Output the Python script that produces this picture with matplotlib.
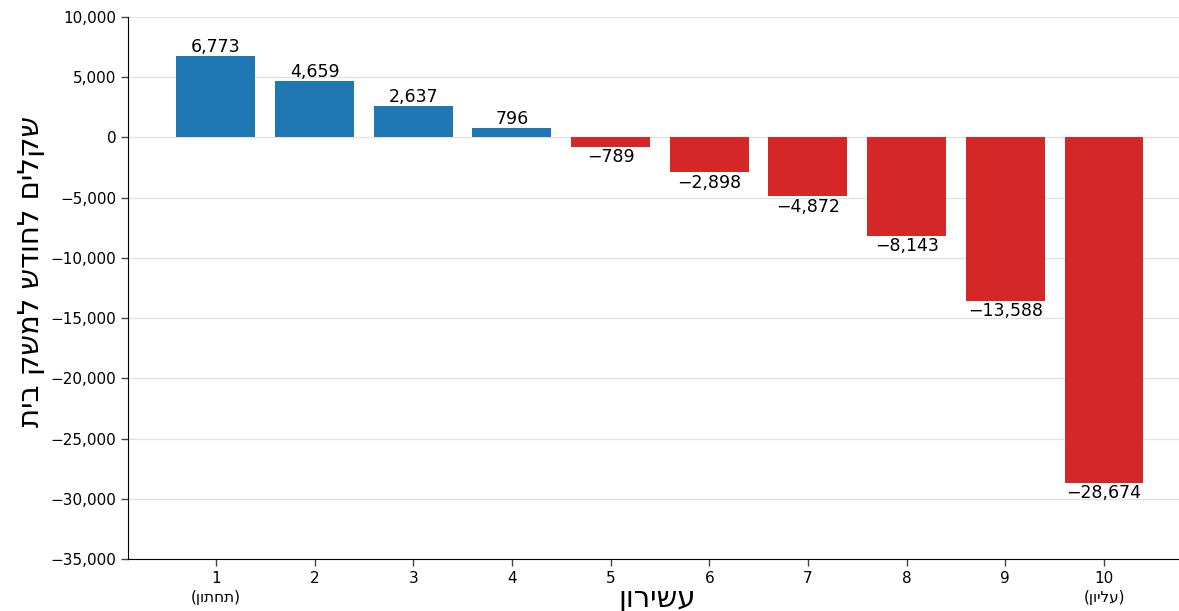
import matplotlib
matplotlib.use("Agg")
import matplotlib.pyplot as plt
from matplotlib.ticker import FuncFormatter, MultipleLocator

# Monthly change per household (NIS) by income decile
DECILES = [1, 2, 3, 4, 5, 6, 7, 8, 9, 10]
VALUES = [6773, 4659, 2637, 796, -789, -2898, -4872, -8143, -13588, -28674]
DECILE_NOTES = {1: "תחתון", 10: "עליון"}

Y_LABEL = "שקלים לחודש למשק בית"
X_LABEL = "עשירון"

BLUE = "#1f77b4"
RED = "#d62728"
GRID = "#e3e3e3"
FONT = "DejaVu Sans"
MINUS = "\u2212"


def rtl(text):
    # matplotlib lays text out left-to-right, so Hebrew is fed in visual order
    return text[::-1]


def fmt(v):
    return f"{int(v):,}".replace("-", MINUS)


def tick_label(d):
    if d in DECILE_NOTES:
        return f"{d}\n({rtl(DECILE_NOTES[d])})"
    return str(d)


fig = plt.figure(figsize=(11.79, 6.11), dpi=100)
ax = fig.add_axes([0.1086, 0.0851, 0.8914, 0.8871])

colors = [BLUE if v >= 0 else RED for v in VALUES]
bars = ax.bar(DECILES, VALUES, width=0.8, color=colors, zorder=3)

for rect, v in zip(bars, VALUES):
    x = rect.get_x() + rect.get_width() / 2
    if v >= 0:
        ax.annotate(fmt(v), (x, v), xytext=(0, 0), textcoords="offset points",
                    ha="center", va="bottom", fontsize=12.5, family=FONT)
    else:
        ax.annotate(fmt(v), (x, v), xytext=(0, -1), textcoords="offset points",
                    ha="center", va="top", fontsize=12.5, family=FONT)

ax.set_ylim(-35000, 10000)
ax.set_xlim(0.11, 10.76)
ax.yaxis.set_major_locator(MultipleLocator(5000))
ax.yaxis.set_major_formatter(FuncFormatter(lambda v, _: fmt(v)))
ax.set_xticks(DECILES)
ax.set_xticklabels([tick_label(d) for d in DECILES], family=FONT, fontsize=11,
                   linespacing=1.35)
for lbl in ax.get_yticklabels():
    lbl.set_family(FONT)
    lbl.set_fontsize(11)

ax.grid(axis="y", color=GRID, linewidth=1, zorder=0)
ax.set_axisbelow(True)
for side in ("top", "right"):
    ax.spines[side].set_visible(False)
ax.tick_params(length=5, width=1, color="#444444")

fig.text(0.026, 0.555, rtl(Y_LABEL), rotation=90, ha="center", va="center",
         fontsize=21, family=FONT)
fig.text(0.557, 0.02, rtl(X_LABEL), ha="center", va="center",
         fontsize=21, family=FONT)

fig.savefig("out.png", dpi=100)
